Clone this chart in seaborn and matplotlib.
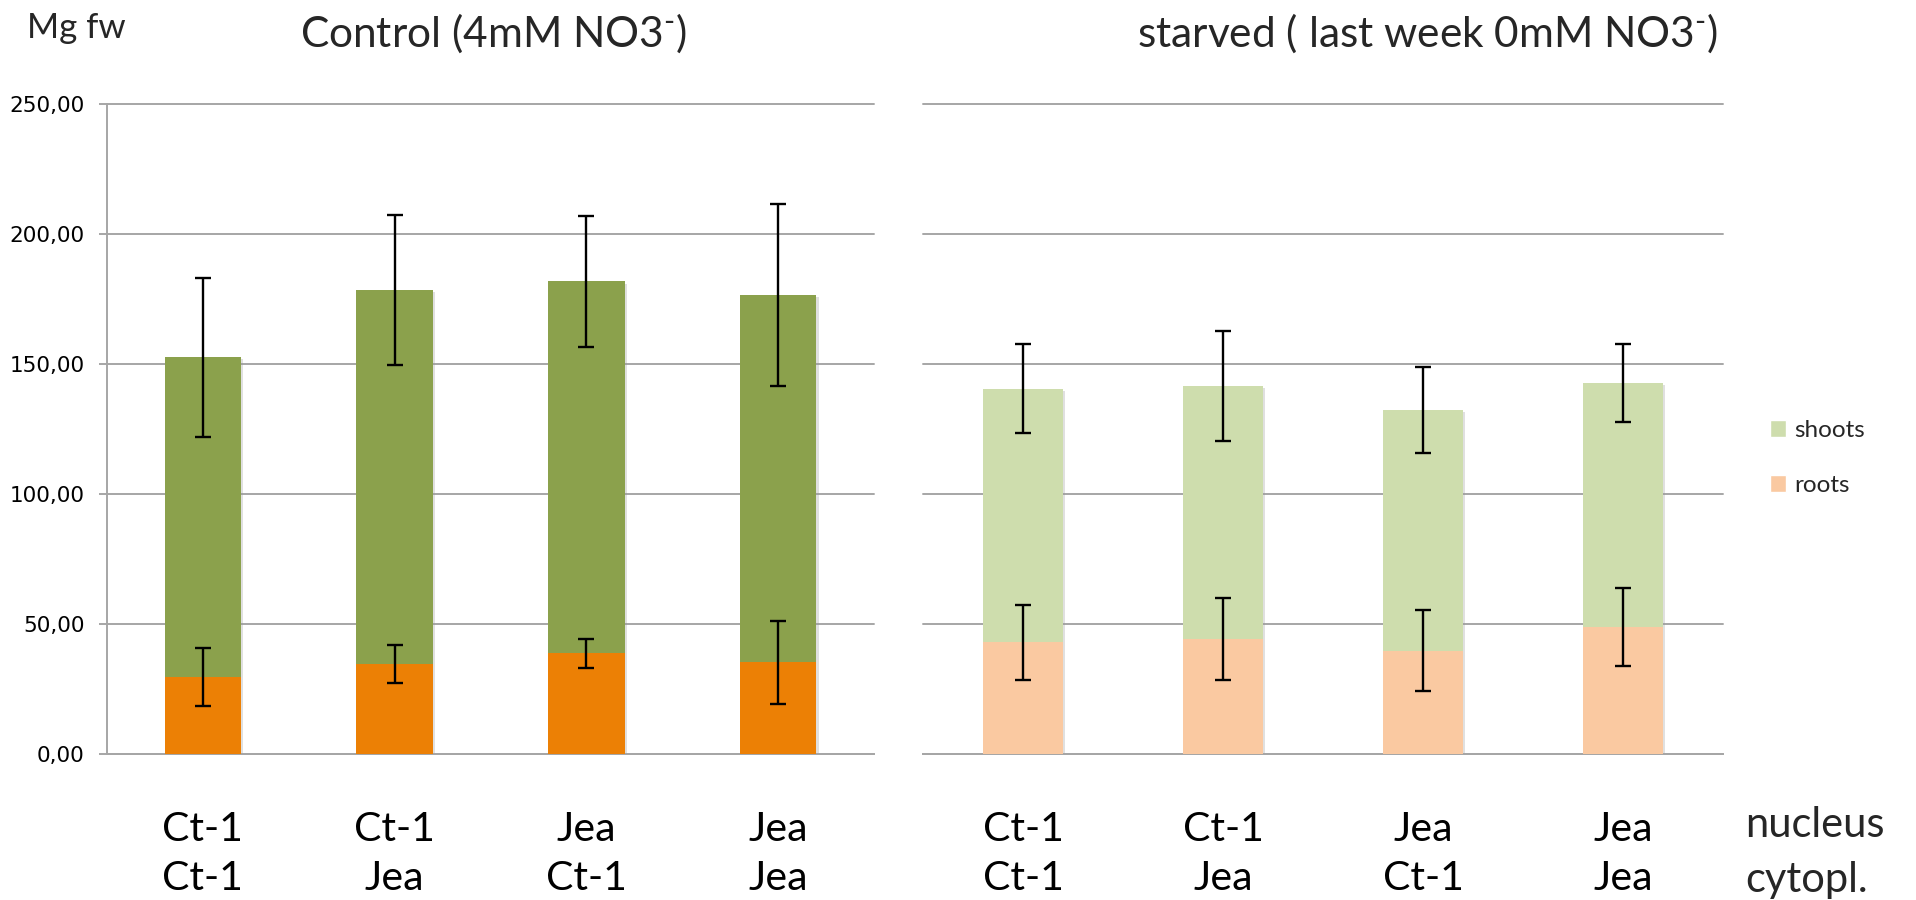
import numpy as np
import pandas as pd
import matplotlib
matplotlib.use("Agg")
import matplotlib.pyplot as plt
import seaborn as sns
from matplotlib.patches import Patch
from matplotlib.ticker import FixedLocator, FuncFormatter
import matplotlib.patheffects as pe

# --- data -------------------------------------------------------------
nucleus = ["Ct-1", "Ct-1", "Jea", "Jea"]
cytoplasm = ["Ct-1", "Jea", "Ct-1", "Jea"]

control_roots = [29.4, 34.6, 38.6, 35.2]
control_shoots = [123.1, 143.9, 143.1, 141.2]
control_roots_err = [11.1, 7.3, 5.5, 16.0]
control_shoots_err = [30.5, 28.9, 25.2, 35.1]

starved_roots = [42.8, 44.2, 39.7, 48.6]
starved_shoots = [97.7, 97.3, 92.5, 94.0]
starved_roots_err = [14.5, 15.7, 15.4, 15.0]
starved_shoots_err = [17.3, 21.2, 16.4, 15.0]

y_ticks = [0, 50, 100, 150, 200, 250]

# --- style ------------------------------------------------------------
sns.set_theme(style="white")
plt.rcParams["font.family"] = ["Lato", "DejaVu Sans"]
plt.rcParams["mathtext.fontset"] = "custom"
plt.rcParams["mathtext.rm"] = "Lato"
plt.rcParams["mathtext.it"] = "Lato:italic"
plt.rcParams["mathtext.bf"] = "Lato:bold"

GRID = "#A6A6A6"
SHOOT_DARK = "#8BA14C"
ROOT_DARK = "#EC8005"
SHOOT_LIGHT = "#CEDDAD"
ROOT_LIGHT = "#FAC9A1"

W, H = 1916, 900
fig = plt.figure(figsize=(W / 100, H / 100), dpi=100)

y_top, y_bot = 103.9, 753.7
ax_l = fig.add_axes([107 / W, 1 - y_bot / H, 767 / W, (y_bot - y_top) / H])
ax_r = fig.add_axes([923 / W, 1 - y_bot / H, 800 / W, (y_bot - y_top) / H])

shadow = [pe.SimplePatchShadow(offset=(1.5, -1.5), shadow_rgbFace="#999999", alpha=0.3), pe.Normal()]


def draw_panel(ax, roots, shoots, roots_err, shoots_err, c_shoot, c_root):
    labels = [f"{n}\n{c}" for n, c in zip(nucleus, cytoplasm)]
    df = pd.DataFrame({"genotype": labels, "roots": roots, "shoots": shoots})
    df["total"] = df["roots"] + df["shoots"]

    sns.barplot(data=df, x="genotype", y="total", color=c_shoot, width=0.4,
                saturation=1, errorbar=None, linewidth=0, ax=ax, zorder=2)
    sns.barplot(data=df, x="genotype", y="roots", color=c_root, width=0.4,
                saturation=1, errorbar=None, linewidth=0, ax=ax, zorder=3)
    for i, bar in enumerate(ax.patches):
        if i < len(df):
            bar.set_path_effects(shadow)

    x = np.arange(len(df))
    err_kw = dict(fmt="none", ecolor="black", elinewidth=1.7, capsize=5.5,
                  capthick=1.7, zorder=5)
    ax.errorbar(x, df["total"], yerr=shoots_err, **err_kw)
    ax.errorbar(x, df["roots"], yerr=roots_err, **err_kw)

    ax.set_xlim(-0.5, len(df) - 0.5)
    ax.set_ylim(0, 250)
    ax.set_xlabel("")
    ax.set_ylabel("")

    ax.yaxis.set_major_locator(FixedLocator(y_ticks))
    ax.yaxis.grid(True, color=GRID, linewidth=1.4)
    for gl in ax.get_ygridlines():
        gl.set_clip_on(False)
    ax.set_axisbelow(True)

    ax.xaxis.set_minor_locator(FixedLocator(np.arange(-0.5, len(df), 1.0)))
    ax.tick_params(axis="x", which="major", length=0, pad=41,
                   labelsize=29.5, labelcolor="black")
    ax.tick_params(axis="x", which="minor", length=8, width=1.4,
                   color=GRID, direction="out")
    for lbl in ax.get_xticklabels():
        lbl.set_linespacing(1.42)

    for side in ("top", "right"):
        ax.spines[side].set_visible(False)
    ax.spines["bottom"].set_color(GRID)
    ax.spines["bottom"].set_linewidth(1.4)
    ax.spines["left"].set_color(GRID)
    ax.spines["left"].set_linewidth(1.4)


draw_panel(ax_l, control_roots, control_shoots, control_roots_err,
           control_shoots_err, SHOOT_DARK, ROOT_DARK)
draw_panel(ax_r, starved_roots, starved_shoots, starved_roots_err,
           starved_shoots_err, SHOOT_LIGHT, ROOT_LIGHT)

# y axis only on the control panel
ax_l.yaxis.set_major_formatter(FuncFormatter(lambda v, _: f"{v:.2f}".replace(".", ",")))
ax_l.tick_params(axis="y", which="major", left=True, length=6, width=1.4,
                 color=GRID, direction="out", pad=10, labelsize=15.5,
                 labelcolor="black")
for lbl in ax_l.get_yticklabels():
    lbl.set_fontfamily("DejaVu Sans")
ax_r.spines["left"].set_visible(False)
ax_r.tick_params(axis="y", left=False, labelleft=False)

# titles and annotations
fig.text(76 / W, 1 - 28 / H, "Mg fw", ha="center", va="center", fontsize=25)
fig.text(494 / W, 1 - 33 / H, r"Control (4mM NO3$^{\text{-}}$)", ha="center",
         va="center", fontsize=30.5)
fig.text(1428 / W, 1 - 33 / H, r"starved ( last week 0mM NO3$^{\text{-}}$)",
         ha="center", va="center", fontsize=30.5)
fig.text(1745 / W, 1 - 825 / H, "nucleus", ha="left", va="center", fontsize=30)
fig.text(1745 / W, 1 - 880 / H, "cytopl.", ha="left", va="center", fontsize=30)

handles = [Patch(facecolor=SHOOT_LIGHT, label="shoots"),
           Patch(facecolor=ROOT_LIGHT, label="roots")]
fig.legend(handles=handles, loc="center left",
           bbox_to_anchor=(1770 / W, 1 - 458 / H), frameon=False,
           fontsize=17.5, handlelength=0.65, handleheight=0.65,
           handletextpad=0.35, labelspacing=1.4, borderpad=0,
           borderaxespad=0)

fig.savefig("out.png", dpi=100, facecolor="white")
